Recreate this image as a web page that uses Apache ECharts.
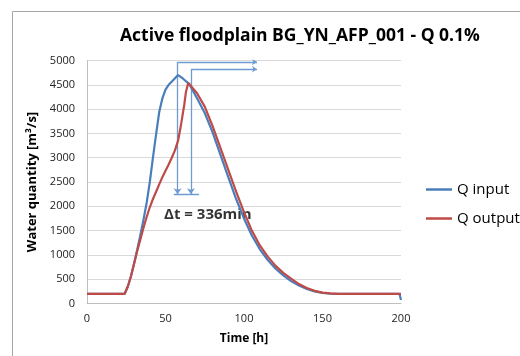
<!DOCTYPE html>
<html>
<head>
<meta charset="utf-8">
<script src="https://cdn.jsdelivr.net/npm/echarts@6/dist/echarts.min.js"></script>
<style>
html,body{margin:0;padding:0;background:#fff;}
#chart{width:520px;height:356px;}
</style>
</head>
<body>
<div id="chart"></div>
<script>
// ---- data ----
const titleText = 'Active floodplain BG_YN_AFP_001 - Q 0.1%';
const xAxisName = 'Time [h]';
const yAxisName = 'Water quantity [m³/s]';
const seriesNames = ['Q input', 'Q output'];

const inputHours  = [0, 24, 26, 28, 30, 32, 34, 36, 38, 40, 42, 44, 46, 48, 50, 52, 55, 58, 61, 65, 70, 75, 80, 85, 90, 95, 100, 105, 110, 115, 120, 125, 130, 135, 140, 145, 150, 155, 160, 180, 199, 200];
const inputValues = [200, 200, 350, 560, 830, 1110, 1410, 1730, 2070, 2500, 3000, 3480, 3940, 4220, 4400, 4500, 4600, 4700, 4630, 4520, 4230, 3920, 3520, 3060, 2600, 2150, 1750, 1400, 1120, 900, 720, 580, 460, 370, 300, 250, 220, 205, 200, 200, 200, 70];

const outputHours  = [0, 24, 26, 28, 30, 32, 34, 36, 38, 40, 42, 44, 46, 48, 50, 52, 54, 56, 58, 60, 62, 63, 64.5, 70, 75, 80, 85, 90, 95, 100, 105, 110, 115, 120, 125, 130, 135, 140, 145, 150, 155, 160, 180, 200];
const outputValues = [200, 200, 350, 560, 820, 1080, 1320, 1560, 1780, 1980, 2150, 2300, 2450, 2600, 2730, 2860, 3000, 3150, 3350, 3700, 4100, 4350, 4540, 4330, 4050, 3650, 3200, 2750, 2300, 1880, 1500, 1200, 970, 780, 630, 510, 400, 320, 260, 225, 210, 200, 200, 200];

const xTicks = {min: 0, max: 200, interval: 50};
const yTicks = {min: 0, max: 5000, interval: 500};

// annotation (data coordinates: hour, value)
const bracketTops     = [[[57.7, 4970], [108.3, 4970]], [[66.2, 4820], [108.3, 4820]]];
const bracketVerticals = [[[57.7, 4970], [57.7, 2250]], [[66.2, 4820], [66.2, 2250]]];
const bracketBase     = [[55.3, 2250], [71.3, 2250]];
const deltaLabel = {text: 'Δt = 336min', hour: 77, value: 1830};

// ---- chart ----
const chart = echarts.init(document.getElementById('chart'), null, {renderer: 'canvas'});
const font = 'Open Sans';
const annColor = '#6f9bd1';

function zipXY(xs, ys) { return xs.map((x, i) => [x, ys[i]]); }

chart.setOption({
  backgroundColor: '#ffffff',
  animation: false,
  title: {
    text: titleText,
    left: 115, top: 22,
    textStyle: {fontFamily: font, fontSize: 17.5, fontWeight: 'bold', color: '#000'}
  },
  legend: {
    data: seriesNames,
    orient: 'vertical',
    left: 421, top: 177,
    icon: 'rect',
    itemWidth: 26, itemHeight: 2.5, itemGap: 14,
    textStyle: {fontFamily: font, fontSize: 15, color: '#000'}
  },
  grid: {left: 87, right: 119, top: 60.5, bottom: 52.5, containLabel: false},
  xAxis: {
    type: 'value', min: xTicks.min, max: xTicks.max, interval: xTicks.interval,
    name: xAxisName, nameLocation: 'middle', nameGap: 29,
    nameTextStyle: {fontFamily: font, fontSize: 12, fontWeight: 'bold', color: '#000'},
    axisLine: {show: true, lineStyle: {color: '#bfbfbf', width: 1}},
    axisTick: {show: false},
    axisLabel: {fontFamily: font, fontSize: 11, color: '#222', margin: 10},
    splitLine: {show: false}
  },
  yAxis: {
    type: 'value', min: yTicks.min, max: yTicks.max, interval: yTicks.interval,
    name: yAxisName, nameLocation: 'middle', nameGap: 44, nameRotate: 90,
    nameTextStyle: {fontFamily: font, fontSize: 13, fontWeight: 'bold', color: '#000'},
    axisLine: {show: true, lineStyle: {color: '#bfbfbf', width: 1}},
    axisTick: {show: false},
    axisLabel: {fontFamily: font, fontSize: 11, color: '#222', margin: 12,
      formatter: v => String(v)},
    splitLine: {show: true, lineStyle: {color: '#d9d9d9', width: 1}}
  },
  graphic: [{
    type: 'rect', silent: true,
    shape: {x: 12.5, y: 11.5, width: 620, height: 420},
    style: {fill: 'none', stroke: '#a6a6a6', lineWidth: 1}
  }],
  series: [
    {
      name: 'Δt', type: 'scatter', z: 1, symbolSize: 0, silent: true,
      data: [[deltaLabel.hour, deltaLabel.value]],
      label: {show: true, position: 'inside', formatter: deltaLabel.text,
        fontFamily: font, fontSize: 15, fontWeight: 'bold', color: '#000'}
    },
    {
      name: 'bracketTop', type: 'lines', coordinateSystem: 'cartesian2d', z: 3, silent: true,
      symbol: ['none', 'arrow'], symbolSize: 5,
      lineStyle: {color: annColor, width: 1.3, opacity: 1, curveness: 0},
      data: bracketTops.map(c => ({coords: c}))
    },
    {
      name: 'bracketVert', type: 'lines', coordinateSystem: 'cartesian2d', z: 3, silent: true,
      symbol: ['none', 'arrow'], symbolSize: 6,
      lineStyle: {color: annColor, width: 1.3, opacity: 1, curveness: 0},
      data: bracketVerticals.map(c => ({coords: c}))
    },
    {
      name: 'base', type: 'lines', coordinateSystem: 'cartesian2d', z: 3, silent: true,
      symbol: ['none', 'none'],
      lineStyle: {color: annColor, width: 1.3, opacity: 1, curveness: 0},
      data: [{coords: bracketBase}]
    },
    {
      name: seriesNames[0], type: 'line', z: 4,
      data: zipXY(inputHours, inputValues),
      symbol: 'none', showSymbol: false,
      lineStyle: {color: '#4a7ebb', width: 2.2},
      itemStyle: {color: '#4a7ebb'}
    },
    {
      name: seriesNames[1], type: 'line', z: 5,
      data: zipXY(outputHours, outputValues),
      symbol: 'none', showSymbol: false,
      lineStyle: {color: '#be4b48', width: 2.2},
      itemStyle: {color: '#be4b48'}
    }
  ]
});
</script>
</body>
</html>
